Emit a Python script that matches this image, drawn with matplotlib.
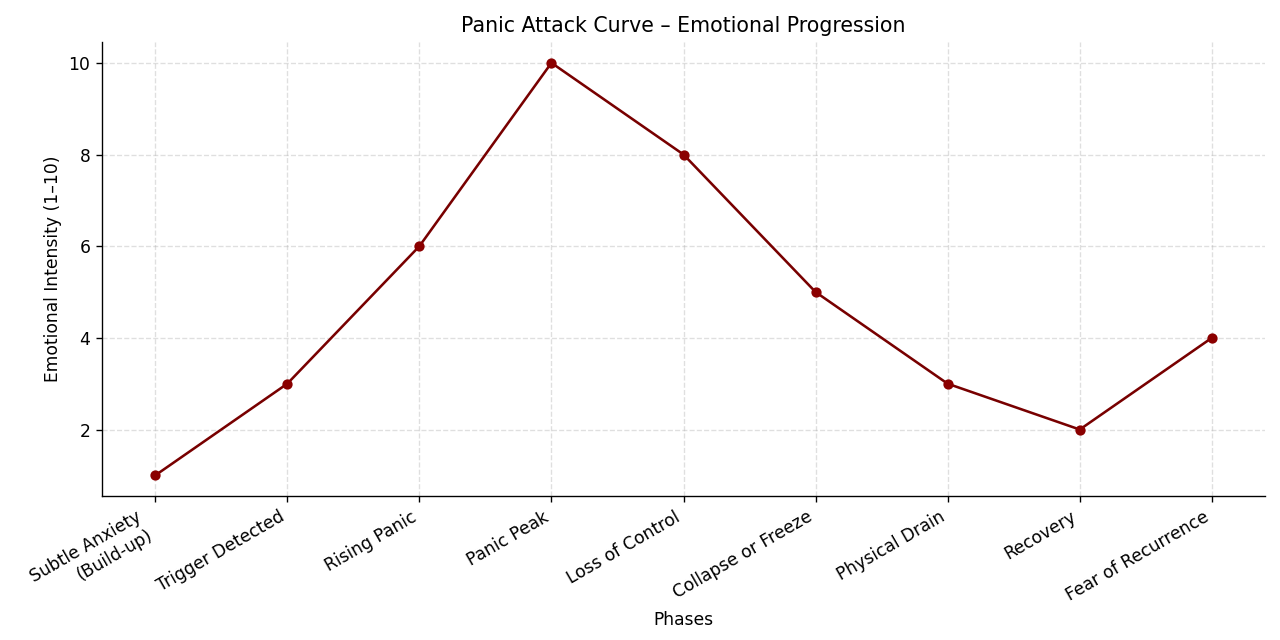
import matplotlib
matplotlib.use("Agg")
import matplotlib.pyplot as plt

phases = [
    "Subtle Anxiety\n(Build-up)",
    "Trigger Detected",
    "Rising Panic",
    "Panic Peak",
    "Loss of Control",
    "Collapse or Freeze",
    "Physical Drain",
    "Recovery",
    "Fear of Recurrence",
]
intensity = [1, 3, 6, 10, 8, 5, 3, 2, 4]

fig, ax = plt.subplots(figsize=(10.4, 5.2), dpi=1280 / 10.4)
ax.plot(phases, intensity, marker="o", color="#780000", markerfacecolor="darkred",
        markeredgecolor="darkred", markersize=5, linewidth=1.5)
ax.set_title("Panic Attack Curve – Emotional Progression", fontsize=12)
ax.set_xlabel("Phases")
ax.set_ylabel("Emotional Intensity (1–10)")
ax.grid(True, linestyle="--", alpha=0.4)
ax.spines["top"].set_visible(False)
ax.spines["right"].set_visible(False)
plt.xticks(rotation=30, ha="right")
fig.subplots_adjust(left=0.08, right=0.988, top=0.934, bottom=0.225)
plt.savefig("out.png")
